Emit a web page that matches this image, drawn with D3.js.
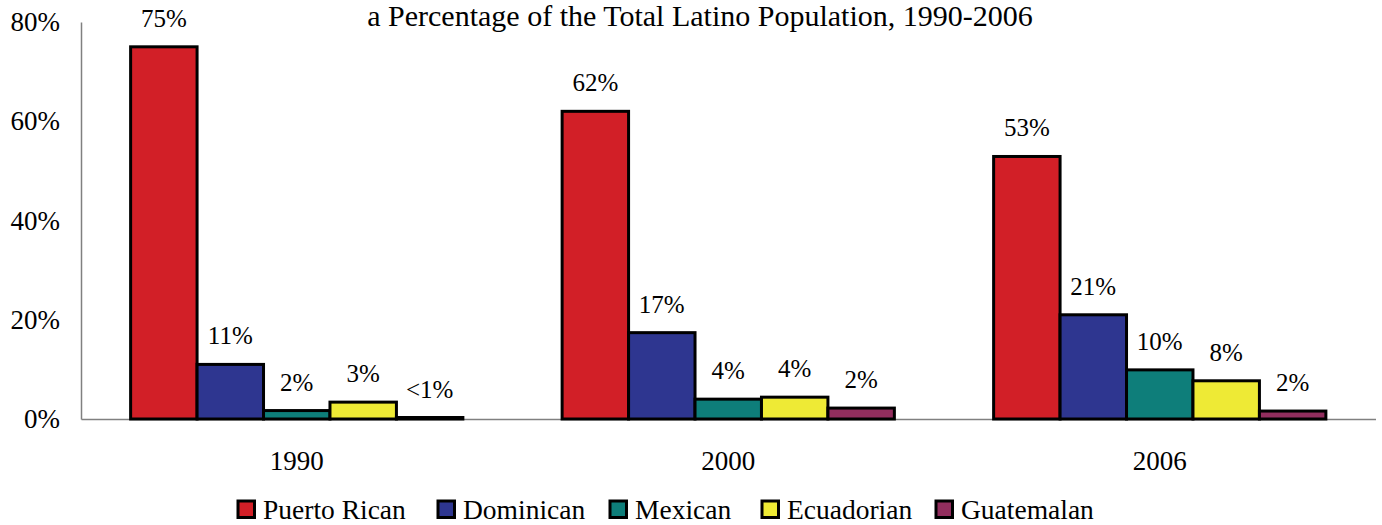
<!DOCTYPE html>
<html><head><meta charset="utf-8">
<script src="https://cdn.jsdelivr.net/npm/d3@7"></script>
<style>body{margin:0;background:#fff}svg{display:block}svg text{font-family:"Liberation Serif","DejaVu Serif",Tinos,Times,serif;fill:#000}</style>
</head><body><svg id="c" width="1382" height="525"></svg>
<script>
const title = "a Percentage of the Total Latino Population, 1990-2006";
const years = ["1990", "2000", "2006"];
const groups = ["Puerto Rican", "Dominican", "Mexican", "Ecuadorian", "Guatemalan"];
const colors = ["#d21f27", "#2e3690", "#0e7e7a", "#eeea35", "#922e5e"];
const puertoRican = [75, 62, 52.9];
const dominican = [11, 17.4, 21];
const mexican = [1.7, 4.0, 9.9];
const ecuadorian = [3.4, 4.4, 7.7];
const guatemalan = [0.3, 2.2, 1.6];
const labels = [
  ["75%", "11%", "2%", "3%", "<1%"],
  ["62%", "17%", "4%", "4%", "2%"],
  ["53%", "21%", "10%", "8%", "2%"]
];
const yTicks = [0, 20, 40, 60, 80];
const series = [puertoRican, dominican, mexican, ecuadorian, guatemalan];

const svg = d3.select("#c");
const m = {l: 81, r: 1375.5, t: 22, b: 419};
const x0 = d3.scaleBand().domain(years).range([m.l, m.r]).paddingInner(0.23).paddingOuter(0.115);
const x1 = d3.scaleBand().domain(groups).range([0, x0.bandwidth()]);
const y = d3.scaleLinear().domain([0, 80]).range([m.b, m.t]);

// title
svg.append("text").attr("x", 700).attr("y", 26).attr("text-anchor", "middle")
  .attr("font-size", 30).text(title);

// y axis
const ya = svg.append("g").attr("transform", `translate(${m.l},0)`)
  .call(d3.axisLeft(y).tickValues(yTicks).tickSize(0).tickPadding(21).tickFormat(d => d + "%"));
ya.select(".domain").attr("stroke", "#808080").attr("stroke-width", 1.5);
ya.selectAll("text").attr("font-size", 27).attr("fill", "#000");

// baseline
const xa = svg.append("g").attr("transform", `translate(0,${m.b})`)
  .call(d3.axisBottom(x0).tickSize(0).tickPadding(32));
xa.select(".domain").attr("stroke", "#808080").attr("stroke-width", 1.5);
xa.selectAll("text").attr("font-size", 27).attr("fill", "#000");
svg.selectAll("g").attr("font-family", null);

// bars
years.forEach((yr, i) => {
  const g = svg.append("g").attr("transform", `translate(${x0(yr)},0)`);
  groups.forEach((grp, j) => {
    const v = series[j][i];
    g.append("rect").attr("x", x1(grp)).attr("y", y(v))
      .attr("width", x1.bandwidth()).attr("height", y(0) - y(v))
      .attr("fill", colors[j]).attr("stroke", "#000").attr("stroke-width", 3);
    g.append("text").attr("x", x1(grp) + x1.bandwidth() / 2).attr("y", y(v) - 20)
      .attr("text-anchor", "middle").attr("font-size", 25).text(labels[i][j]);
  });
});

// legend
const legX = [238, 438, 610, 762, 936];
const lg = svg.append("g");
groups.forEach((grp, j) => {
  lg.append("rect").attr("x", legX[j]).attr("y", 501).attr("width", 16.5).attr("height", 16.5)
    .attr("fill", colors[j]).attr("stroke", "#000").attr("stroke-width", 3);
  lg.append("text").attr("x", legX[j] + 25).attr("y", 519).attr("font-size", 27.5).text(grp);
});
</script></body></html>
